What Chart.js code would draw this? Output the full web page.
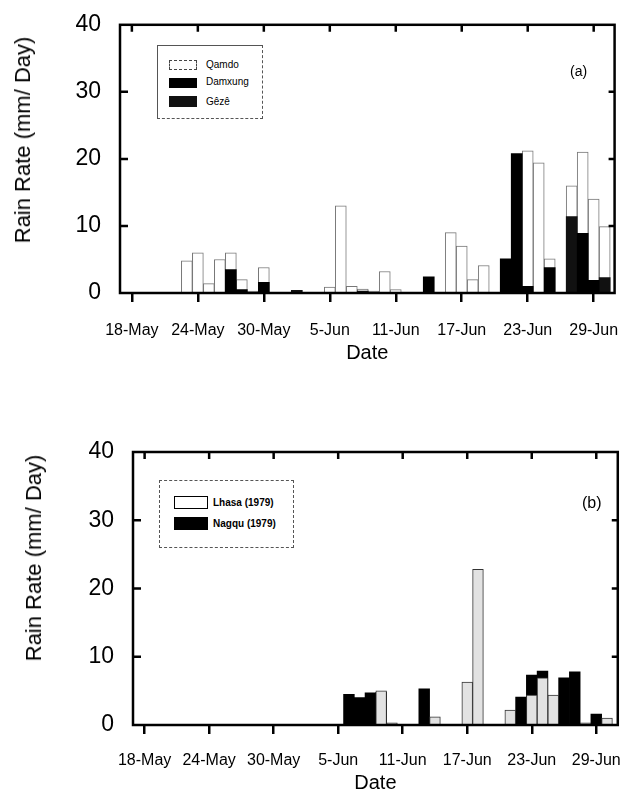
<!DOCTYPE html>
<html>
<head>
<meta charset="utf-8">
<script src="https://cdn.jsdelivr.net/npm/chart.js@4.4.1/dist/chart.umd.min.js"></script>
<style>
  body { margin: 0; background: #fff; width: 638px; height: 802px; position: relative; overflow: hidden;
         font-family: Arial, "Liberation Sans", sans-serif; color: #000; }
  canvas { position: absolute; left: 0; }
  .ytitle { position: absolute; font-size: 22px; white-space: nowrap; transform: translate(-50%, -50%) rotate(-90deg); }
  .legend { position: absolute; border: 1px solid #555; background: #fff; }
  .sw { position: absolute; box-sizing: border-box; }
  .lt { position: absolute; font-size: 10px; white-space: nowrap; line-height: 12px; }
  .tag { position: absolute; white-space: nowrap; }
</style>
</head>
<body>
<canvas id="chartA" width="638" height="400" style="top:0"></canvas>
<canvas id="chartB" width="638" height="402" style="top:400px"></canvas>

<div class="ytitle" style="left:23px; top:140px">Rain Rate (mm/ Day)</div>
<div class="ytitle" style="left:34px; top:558px">Rain Rate (mm/ Day)</div>

<div class="legend" style="left:157px; top:45px; width:104px; height:72px; border-style:solid dashed dashed solid"></div>
<div class="sw" style="left:169px; top:60px; width:28px; height:10px; border:1px dashed #444; background:#fff"></div>
<div class="lt" style="left:206px; top:59px">Qamdo</div>
<div class="sw" style="left:169px; top:78px; width:28px; height:10px; background:#000"></div>
<div class="lt" style="left:206px; top:76px">Damxung</div>
<div class="sw" style="left:169px; top:96px; width:28px; height:11px; background:#111"></div>
<div class="lt" style="left:206px; top:96px">Gêzê</div>
<div class="tag" style="left:570px; top:63px; font-size:14px">(a)</div>

<div class="legend" style="left:159px; top:480px; width:133px; height:66px; border-style:dashed"></div>
<div class="sw" style="left:174px; top:496px; width:34px; height:13px; border:1px solid #000; background:#fff"></div>
<div class="lt" style="left:213px; top:497px; font-weight:bold">Lhasa (1979)</div>
<div class="sw" style="left:174px; top:517px; width:34px; height:13px; background:#000"></div>
<div class="lt" style="left:213px; top:518px; font-weight:bold">Nagqu (1979)</div>
<div class="tag" style="left:582px; top:494px; font-size:16px">(b)</div>

<script>
// one value per day, 18-May ... 30-Jun (44 days), mm/day
const qamdo = [0, 0, 0, 0, 0, 4.8, 6.0, 1.4, 5.0, 6.0, 2.0, 0.3, 3.8, 0, 0, 0, 0, 0, 0.9, 13.0, 1.0, 0.6,
               0.3, 3.2, 0.5, 0, 0, 0, 0, 9.0, 7.0, 2.0, 4.1, 0, 0, 0, 21.2, 19.4, 5.1, 0, 16.0, 21.0, 14.0, 9.9];
const damxung = [0, 0, 0, 0, 0, 0, 0, 0, 0, 3.5, 0.5, 0, 1.6, 0, 0, 0, 0, 0, 0, 0, 0, 0,
                 0, 0, 0, 0, 0, 2.4, 0, 0, 0, 0, 0, 0, 5.1, 20.8, 1.0, 0, 3.8, 0, 0, 8.9, 1.9, 0];
const geze = [0, 0, 0, 0, 0, 0, 0, 0, 0, 0, 0, 0, 0, 0, 0, 0.4, 0, 0, 0, 0, 0, 0.3,
              0, 0, 0, 0, 0, 0, 0, 0, 0, 0, 0, 0, 0, 0, 0, 0, 0, 0, 11.4, 0, 0, 2.3];
const lhasa = [0, 0, 0, 0, 0, 0, 0, 0, 0, 0, 0, 0, 0, 0, 0, 0, 0, 0, 0, 0, 0, 0,
               5.0, 0.3, 0, 0, 0, 1.2, 0, 0, 6.3, 22.8, 0, 0, 2.2, 0, 4.4, 6.9, 4.4, 0, 0, 0.3, 0, 1.0];
const nagqu = [0, 0, 0, 0, 0, 0, 0, 0, 0, 0, 0, 0, 0, 0, 0, 0, 0, 0, 0, 4.5, 4.0, 4.7,
               4.8, 0, 0, 0, 5.3, 0, 0, 0, 0, 0, 0, 0, 0, 4.1, 7.3, 7.9, 0, 6.9, 7.8, 0, 1.6, 0];

const tickDays = [0, 6, 12, 18, 24, 30, 36, 42];
const tickLabels = ["18-May", "24-May", "30-May", "5-Jun", "11-Jun", "17-Jun", "23-Jun", "29-Jun"];
const yTicks = [10, 20, 30];

const toPoints = arr => arr.map((v, i) => ({ x: i, y: v }));

// box round the plot, inward ticks on left, right and top
const framePlugin = {
  id: "frame",
  afterDatasetsDraw(chart) {
    const { ctx, chartArea: a, scales: { x, y } } = chart;
    ctx.save();
    ctx.strokeStyle = "#000";
    ctx.lineWidth = 2.5;
    ctx.strokeRect(a.left, a.top, a.right - a.left, a.bottom - a.top);
    ctx.beginPath();
    yTicks.forEach(v => {
      const py = y.getPixelForValue(v);
      ctx.moveTo(a.left, py); ctx.lineTo(a.left + 8, py);
      ctx.moveTo(a.right, py); ctx.lineTo(a.right - 6, py);
    });
    tickDays.forEach(d => {
      const px = x.getPixelForValue(d);
      ctx.moveTo(px, a.top); ctx.lineTo(px, a.top + 7);
    });
    ctx.stroke();
    ctx.restore();
  }
};

function barSet(data, fill, border, bw) {
  return {
    data: toPoints(data),
    backgroundColor: fill,
    borderColor: border,
    borderWidth: bw,
    grouped: false,
    barPercentage: 1,
    categoryPercentage: 1
  };
}

function makeChart(id, datasets, c) {
  return new Chart(document.getElementById(id).getContext("2d"), {
    type: "bar",
    data: { datasets: datasets },
    options: {
      responsive: false,
      animation: false,
      devicePixelRatio: 1,
      layout: { padding: c.padding },
      plugins: { legend: { display: false }, tooltip: { enabled: false } },
      scales: {
        x: {
          type: "linear",
          min: c.xMin,
          max: c.xMax,
          offset: false,
          afterBuildTicks: s => { s.ticks = tickDays.map(v => ({ value: v })); },
          afterFit: s => { s.height = c.xHeight; },
          grid: { display: true, offset: false, drawOnChartArea: false, drawTicks: true, tickLength: 9, color: "#000", lineWidth: 2.5 },
          border: { display: false },
          ticks: {
            autoSkip: false, maxRotation: 0, minRotation: 0, padding: c.xPad, color: "#000",
            font: { family: "Arial, 'Liberation Sans'", size: 16 },
            callback: (v, i) => tickLabels[i]
          },
          title: {
            display: true, text: "Date", color: "#000",
            font: { family: "Arial, 'Liberation Sans'", size: 20 },
            padding: { top: 0, bottom: c.titlePad }
          }
        },
        y: {
          min: 0,
          max: 40,
          afterFit: s => { s.width = c.yWidth; },
          grid: { display: false },
          border: { display: false },
          ticks: { stepSize: 10, padding: c.yPad, color: "#000", font: { family: "Arial, 'Liberation Sans'", size: 23 } }
        }
      }
    },
    plugins: [framePlugin]
  });
}

// (a): Qamdo listed last so it is drawn behind the black bars
let chartA = makeChart("chartA", [
  barSet(damxung, "#000", "#000", 0),
  barSet(geze, "#111", "#111", 0),
  barSet(qamdo, "#fff", "#777", 1)
], {
  padding: { left: 0, right: 20, top: 19, bottom: 27 },
  xMin: -1.08, xMax: 43.9, xHeight: 80, xPad: 19, titlePad: 8, yWidth: 120, yPad: 11
});

// (b): Lhasa drawn in front of Nagqu
let chartB = makeChart("chartB", [
  barSet(lhasa, "#e2e2e2", "#333", 1),
  barSet(nagqu, "#000", "#000", 0)
], {
  padding: { left: 0, right: 6, top: 52, bottom: 2 },
  xMin: -1.08, xMax: 44.0, xHeight: 75, xPad: 17, titlePad: 5, yWidth: 133, yPad: 11
});
</script>
</body>
</html>
